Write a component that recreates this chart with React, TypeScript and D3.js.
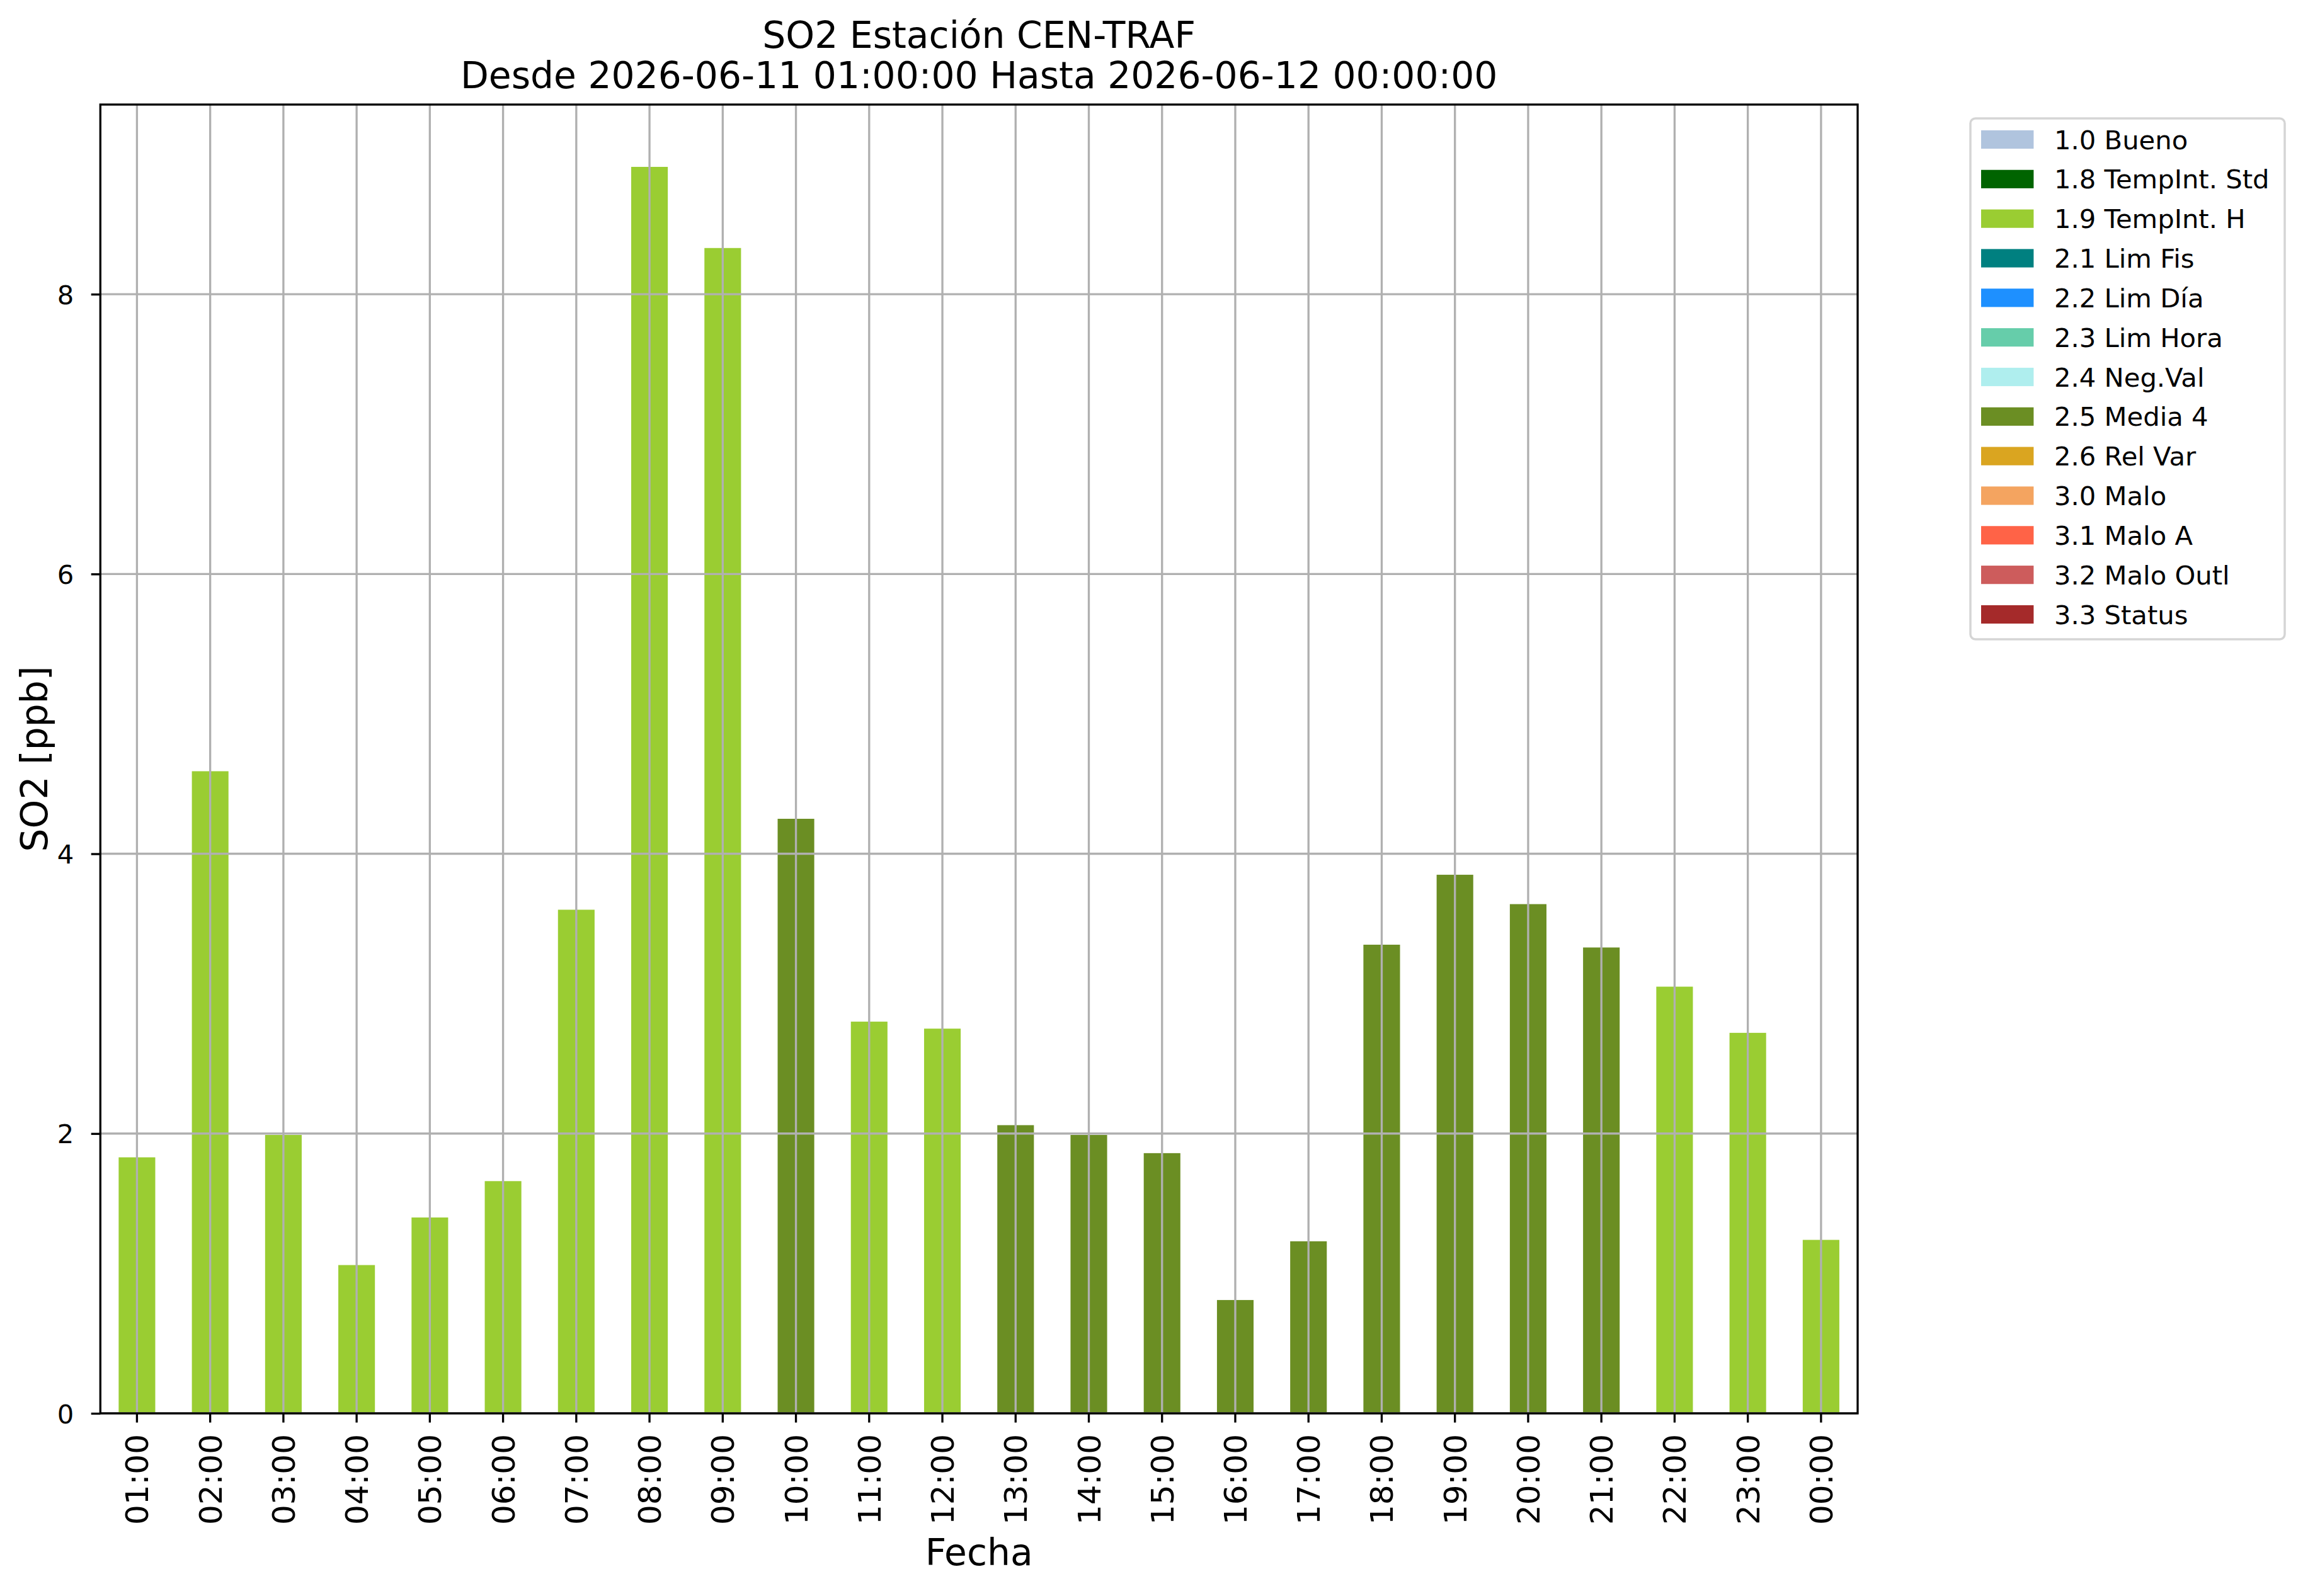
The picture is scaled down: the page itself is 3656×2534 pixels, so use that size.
import React, { useRef, useEffect } from "react"
import * as d3 from "d3"

const hours = [
    "01:00", "02:00", "03:00", "04:00", "05:00", "06:00", "07:00", "08:00",
    "09:00", "10:00", "11:00", "12:00", "13:00", "14:00", "15:00", "16:00",
    "17:00", "18:00", "19:00", "20:00", "21:00", "22:00", "23:00", "00:00",
]

const so2Values = [
    1.83, 4.59, 1.99, 1.06, 1.40, 1.66, 3.60, 8.91,
    8.33, 4.25, 2.80, 2.75, 2.06, 1.99, 1.86, 0.81,
    1.23, 3.35, 3.85, 3.64, 3.33, 3.05, 2.72, 1.24,
]

// flag of each hour (key into the legend)
const hourFlags = [
    "1.9", "1.9", "1.9", "1.9", "1.9", "1.9", "1.9", "1.9",
    "1.9", "2.5", "1.9", "1.9", "2.5", "2.5", "2.5", "2.5",
    "2.5", "2.5", "2.5", "2.5", "2.5", "1.9", "1.9", "1.9",
]

const flagCodes = ["1.0", "1.8", "1.9", "2.1", "2.2", "2.3", "2.4", "2.5", "2.6", "3.0", "3.1", "3.2", "3.3"]
const flagNames = ["Bueno", "TempInt. Std", "TempInt. H", "Lim Fis", "Lim Día", "Lim Hora", "Neg.Val", "Media 4", "Rel Var", "Malo", "Malo A", "Malo Outl", "Status"]
const flagColors = ["#b0c4de", "#006400", "#9acd32", "#008080", "#1e90ff", "#66cdaa", "#afeeee", "#6b8e23", "#daa520", "#f4a460", "#ff6347", "#cd5c5c", "#a52a2a"]

const yTicks = [0, 2, 4, 6, 8]

const W = 3656
const H = 2534
const FONT = "DejaVu Sans"

export default function App() {
    const svgRef = useRef<SVGSVGElement>(null)

    useEffect(() => {
        document.body.style.margin = "0"
        document.body.style.overflow = "hidden"
        if (!svgRef.current) return
        const svg = d3.select(svgRef.current)
        svg.selectAll("*").remove()

        const plot = { left: 159.3, right: 2949, top: 166, bottom: 2244 }
        const lw = 3.33 // 0.8pt at 300 dpi

        const x = d3.scaleBand<string>()
            .domain(hours)
            .range([plot.left, plot.right])
            .paddingInner(0.5)
            .paddingOuter(0.25)

        const yMax = (d3.max(so2Values) || 1) * 1.05
        const y = d3.scaleLinear().domain([0, yMax]).range([plot.bottom, plot.top])

        const color = d3.scaleOrdinal<string, string>().domain(flagCodes).range(flagColors)

        svg.append("rect").attr("width", W).attr("height", H).attr("fill", "white")

        // Bars
        svg.append("g")
            .selectAll("rect")
            .data(hours)
            .join("rect")
            .attr("x", d => x(d)!)
            .attr("width", x.bandwidth())
            .attr("y", (_, i) => y(so2Values[i]))
            .attr("height", (_, i) => plot.bottom - y(so2Values[i]))
            .attr("fill", (_, i) => color(hourFlags[i]))

        // Grid lines (over the bars, as matplotlib does)
        const grid = svg.append("g").attr("stroke", "#b0b0b0").attr("stroke-width", lw)
        grid.selectAll("line.v")
            .data(hours)
            .join("line")
            .attr("class", "v")
            .attr("x1", d => x(d)! + x.bandwidth() / 2)
            .attr("x2", d => x(d)! + x.bandwidth() / 2)
            .attr("y1", plot.top)
            .attr("y2", plot.bottom)
        grid.selectAll("line.h")
            .data(yTicks)
            .join("line")
            .attr("class", "h")
            .attr("x1", plot.left)
            .attr("x2", plot.right)
            .attr("y1", d => y(d))
            .attr("y2", d => y(d))

        // X axis
        const xAxis = svg.append("g")
            .attr("transform", `translate(0,${plot.bottom})`)
            .call(d3.axisBottom(x).tickSize(14.6).tickPadding(33).tickSizeOuter(0))
        xAxis.select(".domain").remove()
        xAxis.selectAll(".tick line").attr("stroke", "black").attr("stroke-width", lw)
        xAxis.selectAll(".tick text")
            .attr("font-family", FONT)
            .attr("font-size", 50)
            .attr("fill", "black")
            .attr("transform", "rotate(-90)")
            .attr("text-anchor", "end")
            .attr("x", -33)
            .attr("y", 0)
            .attr("dy", "0.36em")

        // Y axis
        const yAxis = svg.append("g")
            .attr("transform", `translate(${plot.left},0)`)
            .call(d3.axisLeft(y).tickValues(yTicks).tickFormat(d3.format("d")).tickSize(14.6).tickPadding(27.5).tickSizeOuter(0))
        yAxis.select(".domain").remove()
        yAxis.selectAll(".tick line").attr("stroke", "black").attr("stroke-width", lw)
        yAxis.selectAll(".tick text")
            .attr("font-family", FONT)
            .attr("font-size", 41.7)
            .attr("fill", "black")
            .attr("dy", "0.36em")

        // Frame
        svg.append("rect")
            .attr("x", plot.left)
            .attr("y", plot.top)
            .attr("width", plot.right - plot.left)
            .attr("height", plot.bottom - plot.top)
            .attr("fill", "none")
            .attr("stroke", "black")
            .attr("stroke-width", lw)

        // Titles
        const cx = (plot.left + plot.right) / 2
        const title = svg.append("g").attr("font-family", FONT).attr("font-size", 58.3).attr("fill", "black").attr("text-anchor", "middle")
        title.append("text").attr("x", cx).attr("y", 76).text("SO2 Estación CEN-TRAF")
        title.append("text").attr("x", cx).attr("y", 140).text("Desde 2026-06-11 01:00:00 Hasta 2026-06-12 00:00:00")

        svg.append("text")
            .attr("x", cx)
            .attr("y", 2485)
            .attr("text-anchor", "middle")
            .attr("font-family", FONT)
            .attr("font-size", 58.3)
            .text("Fecha")

        svg.append("text")
            .attr("transform", `translate(74.5,${(plot.top + plot.bottom) / 2}) rotate(-90)`)
            .attr("text-anchor", "middle")
            .attr("font-family", FONT)
            .attr("font-size", 58.3)
            .text("SO2 [ppb]")

        // Legend
        const leg = { x: 3128, y: 188, w: 499, h: 827 }
        svg.append("rect")
            .attr("x", leg.x)
            .attr("y", leg.y)
            .attr("width", leg.w)
            .attr("height", leg.h)
            .attr("rx", 8)
            .attr("fill", "white")
            .attr("fill-opacity", 0.8)
            .attr("stroke", "#d5d5d5")
            .attr("stroke-width", 3.5)

        const rowY = d3.scalePoint<string>().domain(flagCodes).range([221.5, 975.5])
        const items = svg.append("g")
            .selectAll("g")
            .data(flagCodes)
            .join("g")
            .attr("transform", d => `translate(0,${rowY(d)})`)
        items.append("rect")
            .attr("x", 3145)
            .attr("y", -14.6)
            .attr("width", 83.4)
            .attr("height", 29.2)
            .attr("fill", (_, i) => flagColors[i])
        items.append("text")
            .attr("x", 3261)
            .attr("dy", "0.36em")
            .attr("font-family", FONT)
            .attr("font-size", 41.7)
            .text((d, i) => `${d} ${flagNames[i]}`)
    }, [])

    return <svg ref={svgRef} width={W} height={H} style={{ display: "block" }} />
}
